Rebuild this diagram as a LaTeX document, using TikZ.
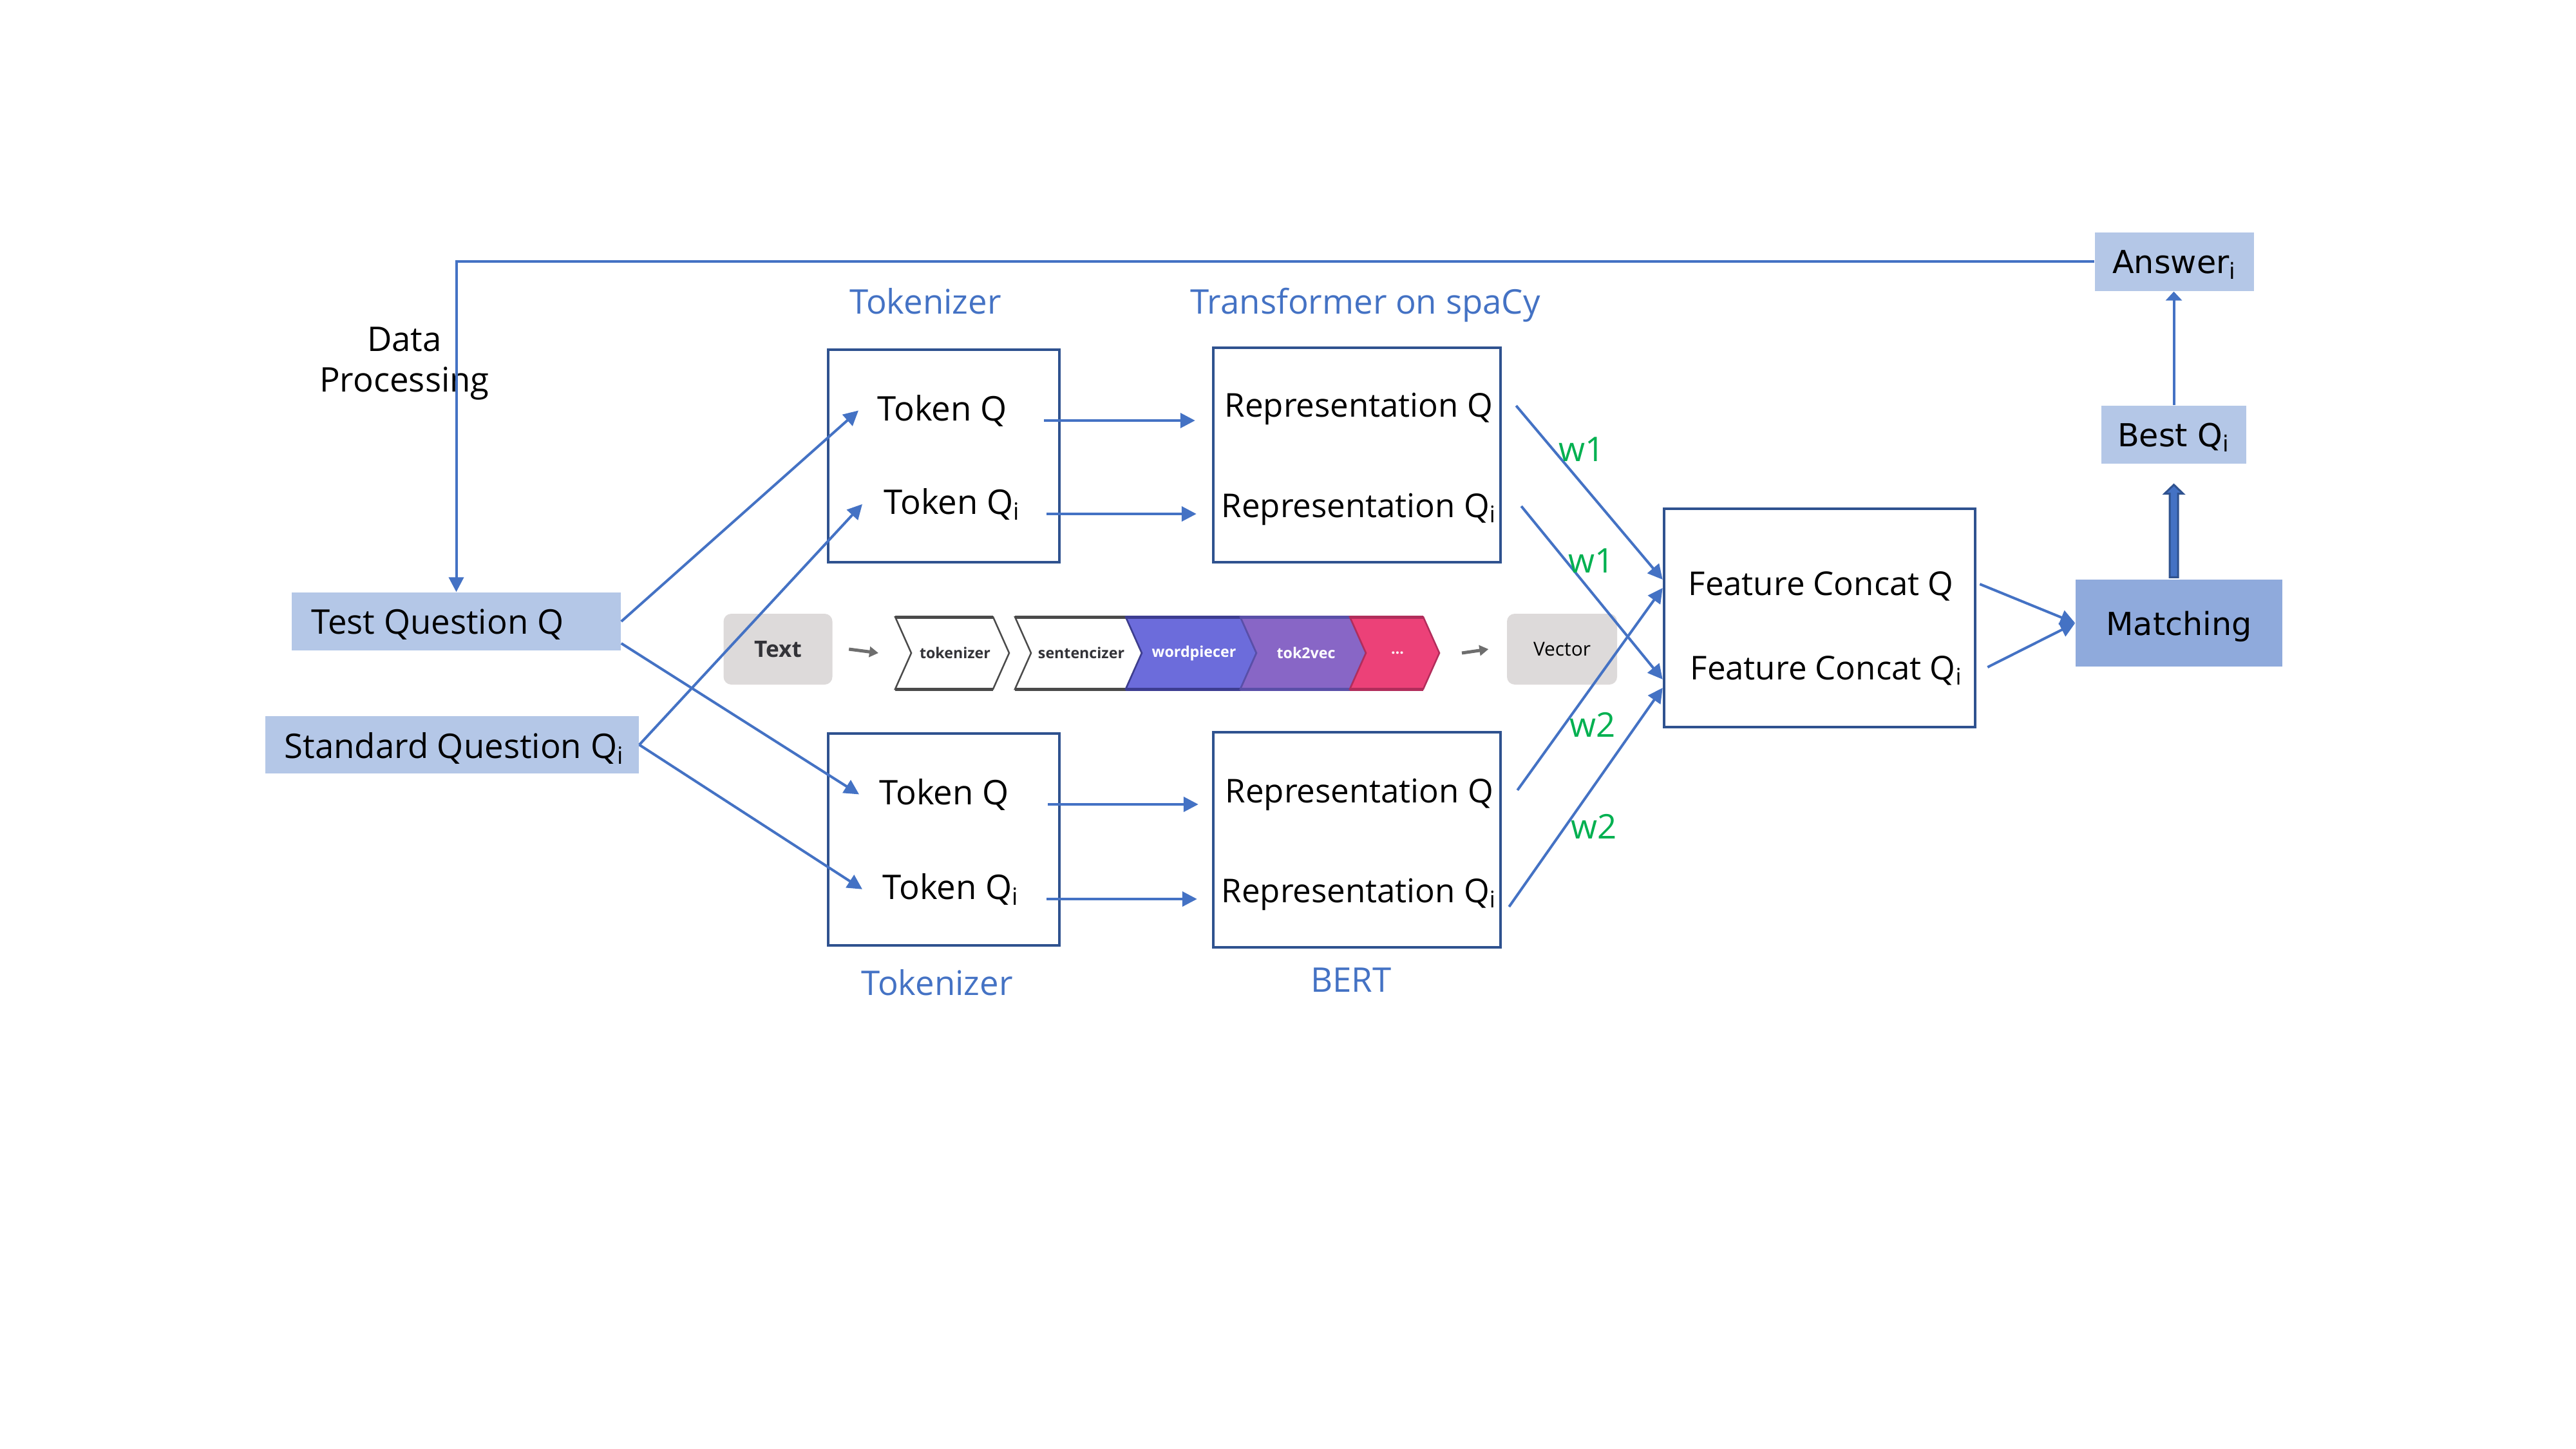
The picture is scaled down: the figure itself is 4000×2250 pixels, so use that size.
\documentclass[tikz,border=0pt]{standalone}
\usepackage{fontspec}
\setmainfont{Open Sans}
\newfontfamily\verdfont{DejaVu Sans}
\usetikzlibrary{arrows.meta,calc}

\definecolor{lineblue}{HTML}{4472C4}
\definecolor{boxblue}{HTML}{2F528F}
\definecolor{qfill}{HTML}{B4C7E7}
\definecolor{matchfill}{HTML}{8FAADC}
\definecolor{wgreen}{HTML}{00B050}
\definecolor{pipegray}{HTML}{6E6E6E}
\definecolor{boxgray}{HTML}{DDDADA}
\definecolor{chevgray}{HTML}{4A4A4A}
\definecolor{chevtext}{HTML}{333338}
\definecolor{wpfill}{HTML}{6C6CDB}
\definecolor{wpline}{HTML}{3D3D91}
\definecolor{tvfill}{HTML}{8866C6}
\definecolor{tvline}{HTML}{5A4FA8}
\definecolor{dotfill}{HTML}{EC4178}
\definecolor{dotline}{HTML}{B22D5B}

\begin{document}
\begin{tikzpicture}[x=0.1mm, y=-0.1mm,
  conn/.style={draw=lineblue, line width=0.4mm, -{Triangle[length=2.3mm,width=2.3mm]}},
  frame/.style={draw=boxblue, line width=0.45mm, fill=white},
  lbl/.style={font=\fontsize{15}{18}\selectfont, inner sep=0pt},
  replbl/.style={font=\fontsize{14.5}{17}\selectfont, inner sep=0pt, anchor=base west},
  toklbl/.style={lbl, anchor=base west},
  bluelbl/.style={lbl, text=lineblue, anchor=base},
  wlbl/.style={lbl, text=wgreen, anchor=base west},
  vbox/.style={font=\verdfont\fontsize{14}{17}\selectfont, text depth=0pt},
  pipe/.style={draw=pipegray, line width=0.5mm, -{Triangle[length=1.4mm,width=1.6mm]}}
]
  \useasboundingbox (0,0) rectangle (4000,2250);

  % Question boxes
  \node[fill=qfill, minimum width=51.1mm, minimum height=9mm] (testq) at (708.5,965) {};
  \node[toklbl] at (483,984) {Test Question Q};
  \node[fill=qfill, minimum width=58mm, minimum height=8.9mm] (stdq) at (702,1156.5) {};
  \node[toklbl] at (441,1177) {Standard Question Q\textsubscript{i}};
  \node[lbl, anchor=north, align=center] at (628,507) {Data\\Processing};

  % Tokenizer and representation boxes
  \node[frame, minimum width=35.9mm, minimum height=33mm] (tokA) at (1465.5,708) {};
  \node[frame, minimum width=35.9mm, minimum height=32.9mm] (tokB) at (1465.5,1303.5) {};
  \node[frame, minimum width=44.6mm, minimum height=33.3mm] (repA) at (2107,706.5) {};
  \node[frame, minimum width=44.6mm, minimum height=33.4mm] (repB) at (2107,1304) {};
  \node[frame, minimum width=48.3mm, minimum height=33.9mm] (feat) at (2825.5,959.5) {};

  \node[toklbl] (tokAq) at (1362,653) {Token Q};
  \node[toklbl] (tokAqi) at (1372,798) {Token Q\textsubscript{i}};
  \node[toklbl] (tokBq) at (1365,1249) {Token Q};
  \node[toklbl] (tokBqi) at (1370,1396) {Token Q\textsubscript{i}};
  \node[replbl] (repAq) at (1901,647) {Representation Q};
  \node[replbl] (repAqi) at (1896,803) {Representation Q\textsubscript{i}};
  \node[replbl] (repBq) at (1902,1246) {Representation Q};
  \node[replbl] (repBqi) at (1896,1401) {Representation Q\textsubscript{i}};
  \node[replbl] (featq) at (2621,924) {Feature Concat Q};
  \node[replbl] (featqi) at (2624,1055) {Feature Concat Q\textsubscript{i}};

  \node[bluelbl] at (1437,488) {Tokenizer};
  \node[bluelbl] at (2120,488) {Transformer on spaCy};
  \node[bluelbl] at (1455,1545) {Tokenizer};
  \node[bluelbl] at (2098,1540) {BERT};

  % Matching and answer
  \node[vbox, fill=matchfill, minimum width=32.1mm, minimum height=13.5mm] (match) at (3383.5,967.5) {Matching};
  \node[vbox, fill=qfill, minimum width=22.5mm, minimum height=9mm] (best) at (3375.5,675) {Best Q\textsubscript{i}};
  \node[vbox, fill=qfill, minimum width=24.7mm, minimum height=9.1mm] (answer) at (3376.5,406.5) {Answer\textsubscript{i}};

  % spaCy pipeline strip
  \node[fill=boxgray, rounded corners=1.2mm, minimum width=16.9mm, minimum height=11mm,
        text=chevtext, font=\fontsize{10}{12}\selectfont\bfseries] (txt) at (1208,1008) {Text};
  \node[fill=boxgray, rounded corners=1.2mm, minimum width=17.1mm, minimum height=11mm,
        font=\fontsize{8.5}{10}\selectfont] (vec) at (2425.5,1008) {Vector};
  \foreach \l/\r/\fc/\bc/\tc/\nm/\txt in {
      1390/1542/white/chevgray/chevtext/tokz/tokenizer,
      1576/1748/white/chevgray/chevtext/sentz/sentencizer,
      1748/1926/wpfill/wpline/white/wordp/wordpiecer,
      1926/2096/tvfill/tvline/white/tokvec/tok2vec,
      2096/2210/dotfill/dotline/white/dots/\ldots}
  {
    \filldraw[fill=\fc, draw=\bc, line width=0.25mm]
      (\l,958) -- (\r,958) -- (\r+25,1014) -- (\r,1070) -- (\l,1070) -- (\l+25,1014) -- cycle;
    \draw[draw=\bc, line width=0.5mm] (\l,958) -- (\r,958) (\l,1070) -- (\r,1070);
    \coordinate (\nm-l) at (\l,1014);
    \coordinate (\nm-r) at (\r+25,1014);
    \node[text=\tc, font=\fontsize{6.6}{8}\selectfont\bfseries] (\nm) at ({(\l+\r)/2+17},1014) {\txt};
  }
  \draw[pipe] ([xshift=2.5mm]txt.east) -- ([xshift=-2.6mm]tokz-l);
  \draw[pipe] ([xshift=3.5mm]dots-r) -- ([xshift=-2.8mm]vec.west);

  % Data processing loop
  \draw[conn] (answer.west) -| (testq.north);

  % Questions to tokens
  \draw[conn] (testq.east) -- ([xshift=-2.9mm]tokAq.west);
  \draw[conn] ([yshift=-3.4mm]testq.east) -- ([xshift=-3.1mm]tokBq.west);
  \draw[conn] (stdq.east) -- ([xshift=-3.3mm]tokAqi.west);
  \draw[conn] (stdq.east) -- ([xshift=-3.1mm]tokBqi.west);

  % Tokens to representations
  \draw[conn] ([xshift=-2.6mm]tokAq.base -| tokA.east) -- ([xshift=-2.6mm]tokAq.base -| repA.west);
  \draw[conn] ([xshift=-2.2mm]tokAqi.base -| tokA.east) -- ([xshift=-2.4mm]tokAqi.base -| repA.west);
  \draw[conn] ([xshift=-2.0mm]tokBq.base -| tokB.east) -- ([xshift=-2.1mm]tokBq.base -| repB.west);
  \draw[conn] ([xshift=-2.2mm]tokBqi.base -| tokB.east) -- ([xshift=-2.3mm]tokBqi.base -| repB.west);

  % Representations to feature concat
  \draw[conn] ([xshift=2.2mm, yshift=7.65mm]repA.east) -- ([yshift=5.95mm]feat.west);
  \draw[conn] ([xshift=3mm, yshift=-7.95mm]repA.east) -- ([yshift=-9.55mm]feat.west);
  \draw[conn] ([xshift=2.4mm, yshift=7.7mm]repB.east) -- ([yshift=4.65mm]feat.west);
  \draw[conn] ([xshift=1.1mm, yshift=-10.4mm]repB.east) -- ([yshift=-10.85mm]feat.west);
  \node[wlbl] at (2420,716) {w1};
  \node[wlbl] at (2435,889) {w1};
  \node[wlbl] at (2437,1144) {w2};
  \node[wlbl] at (2439,1302) {w2};

  % Feature concat to matching
  \draw[conn] ([xshift=0.5mm, yshift=5.25mm]feat.east) -- (match.west);
  \draw[conn] ([xshift=1.7mm, yshift=-7.65mm]feat.east) -- (match.west);

  % Matching to best to answer
  \coordinate (mtop) at (best.south |- match.north);
  \filldraw[fill=lineblue, draw=boxblue, line width=0.3mm]
    ($(mtop)+(-6.5,-3)$) -- ($(best.south)+(-6.5,46)$) -- ($(best.south)+(-14.5,46)$)
    -- ($(best.south)+(0,32)$) -- ($(best.south)+(14.5,46)$) -- ($(best.south)+(6.5,46)$)
    -- ($(mtop)+(6.5,-3)$) -- cycle;
  \draw[draw=lineblue, line width=0.4mm, -{Triangle[length=1.4mm,width=2.5mm]}] (best.north) -- (best.north |- answer.south);
\end{tikzpicture}
\end{document}
